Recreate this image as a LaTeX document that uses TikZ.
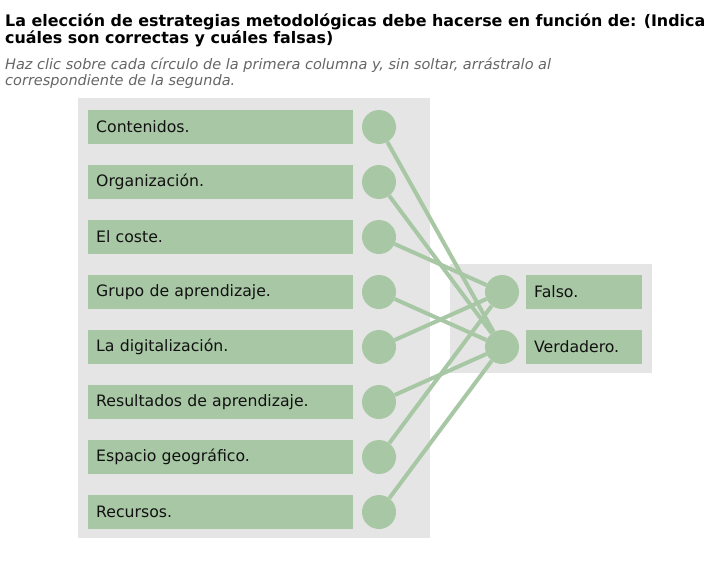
\documentclass[tikz,border=0pt]{standalone}
\usepackage{fontspec}
\setmainfont{DejaVu Sans}
\definecolor{grn}{HTML}{A8C7A5}
\definecolor{pnl}{HTML}{E5E5E5}
\definecolor{txt}{HTML}{111111}
\definecolor{subc}{HTML}{666666}
\begin{document}
\begin{tikzpicture}[x=1pt,y=-1pt,
  itembox/.style={fill=grn, minimum height=34pt, inner xsep=8pt, inner ysep=0pt,
    text=txt, font=\fontsize{15.7}{18}\selectfont, align=left, anchor=west},
  leftbox/.style={itembox, text width=249pt},
  rightbox/.style={itembox, text width=100pt},
  dot/.style={circle, fill=grn, minimum size=34pt, inner sep=0pt},
  link/.style={draw=grn, line width=4pt},
  titletxt/.style={anchor=base west, inner sep=0pt, font=\fontsize{15.9}{18}\bfseries\selectfont, text=black},
  subtxt/.style={anchor=base west, inner sep=0pt, font=\fontsize{14.5}{17}\itshape\selectfont, text=subc}]
\useasboundingbox (0,0) rectangle (715,562);
\fill[white] (0,0) rectangle (715,562);
% panels
\fill[pnl] (78,98) rectangle (430,538);
\fill[pnl] (450,264) rectangle (652,373);
% header
\node[titletxt] (t1) at (5,26) {La elección de estrategias metodológicas debe hacerse en función de: (Indica};
\node[titletxt] (t2) at (5,43) {cuáles son correctas y cuáles falsas)};
\node[subtxt] (s1) at (5,69) {Haz clic sobre cada círculo de la primera columna y, sin soltar, arrástralo al};
\node[subtxt] (s2) at (5,85) {correspondiente de la segunda.};
% left column
\node[leftbox] (b1) at (88,127) {Contenidos.};
\node[leftbox] (b2) at (88,182) {Organización.};
\node[leftbox] (b3) at (88,237) {El coste.};
\node[leftbox] (b4) at (88,292) {Grupo de aprendizaje.};
\node[leftbox] (b5) at (88,347) {La digitalización.};
\node[leftbox] (b6) at (88,402) {Resultados de aprendizaje.};
\node[leftbox] (b7) at (88,457) {Espacio geográfico.};
\node[leftbox] (b8) at (88,512) {Recursos.};
\foreach \i/\y in {1/127,2/182,3/237,4/292,5/347,6/402,7/457,8/512}
  \node[dot] (c\i) at (379,\y) {};
% right column
\node[dot] (f) at (502,292) {};
\node[dot] (v) at (502,347) {};
\node[rightbox] (bf) at (526,292) {Falso.};
\node[rightbox] (bv) at (526,347) {Verdadero.};
% links
\draw[link] (c1) -- (v);
\draw[link] (c2) -- (v);
\draw[link] (c3) -- (f);
\draw[link] (c4) -- (v);
\draw[link] (c5) -- (f);
\draw[link] (c6) -- (v);
\draw[link] (c7) -- (f);
\draw[link] (c8) -- (v);
\end{tikzpicture}
\end{document}
